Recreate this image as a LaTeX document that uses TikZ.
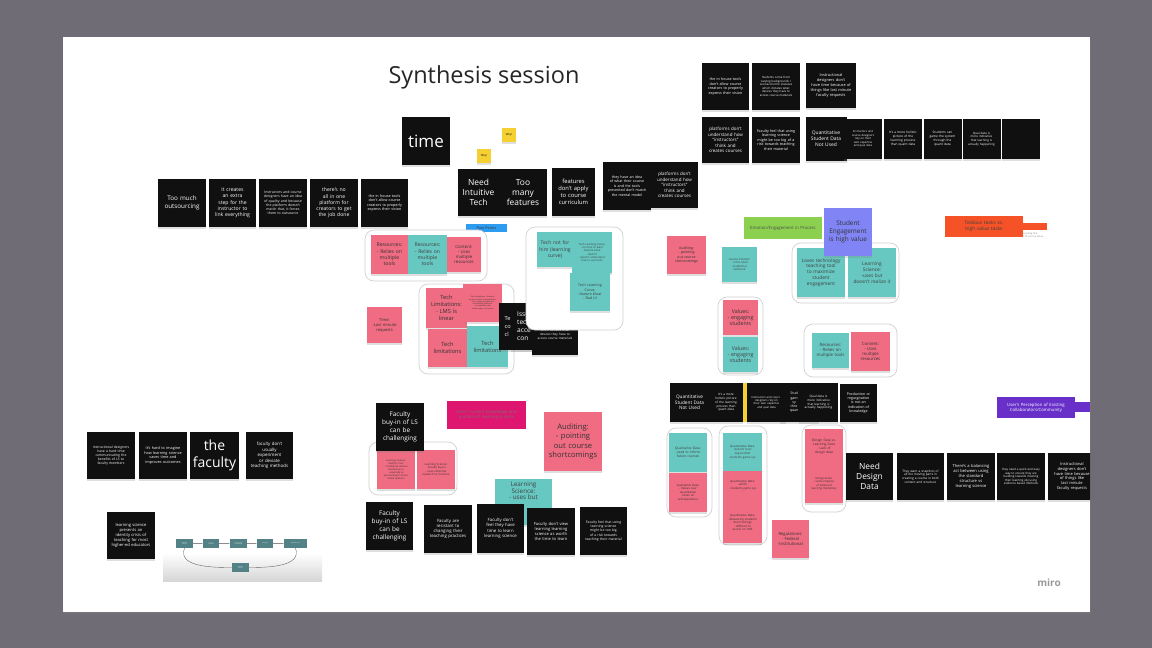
\documentclass[tikz,border=0pt]{standalone}
\usepackage{fontspec}
\setmainfont{Open Sans}
\usetikzlibrary{arrows.meta,shadows}
\hyphenpenalty=10000
\exhyphenpenalty=10000

\definecolor{bgout}{RGB}{112,108,117}
\definecolor{stkblack}{RGB}{16,16,16}
\definecolor{stkpink}{RGB}{240,108,130}
\definecolor{stkteal}{RGB}{103,199,193}
\definecolor{stkyellow}{RGB}{245,208,50}
\definecolor{stkviolet}{RGB}{128,132,245}
\definecolor{lblblue}{RGB}{45,155,240}
\definecolor{lblgreen}{RGB}{140,208,80}
\definecolor{lblmag}{RGB}{222,22,112}
\definecolor{lblorange}{RGB}{245,82,40}
\definecolor{lblpurple}{RGB}{104,48,200}
\definecolor{thumbteal}{RGB}{82,130,134}

\begin{document}
\begin{tikzpicture}[x=1pt,y=-1pt,
  >=Latex,
  sticky/.style={inner sep=0pt,align=center,
    drop shadow={opacity=.25,shadow xshift=0pt,shadow yshift=-1.8pt}},
  blk/.style={sticky,fill=stkblack,text=white},
  pnk/.style={sticky,fill=stkpink,text=black!80},
  tel/.style={sticky,fill=stkteal,text=black!75},
  lbl/.style={inner sep=0pt,align=center},
  frm/.style={draw=black!18,line width=.7pt,rounded corners=9pt,fill=white},
  thumb/.style={fill=thumbteal,text=white,inner sep=0pt,align=center,
    minimum height=9pt,fs=1.3},
  sz/.code 2 args={\pgfmathsetmacro\szw{#1-9}%
    \edef\szx{\noexpand\tikzset{minimum width=#1pt,minimum height=#2pt,text width=\szw pt}}\szx},
  fs/.code={\pgfmathsetmacro\fsb{#1*1.22}%
    \edef\fsx{\noexpand\tikzset{font=\noexpand\fontsize{#1}{\fsb}\noexpand\selectfont}}\fsx}
]
\useasboundingbox (0,0) rectangle (1152,648);
\fill[bgout] (0,0) rectangle (1152,648);
\fill[white,drop shadow={opacity=.35,shadow xshift=1pt,shadow yshift=-2pt}]
  (63,37) rectangle (1090,612);

\begin{scope}
\clip (63,37) rectangle (1090,612);

\node[lbl,fs=23.5,text=black!85] (title) at (484,77) {Synthesis session};

% top left row
\node[blk,sz={48}{48},fs=6.3,text width=44pt] (outsrc) at (182,203) {Too much outsourcing};
\node[blk,sz={47}{48},fs=5.1] (extra) at (232.5,203) {It creates an extra step for the instructor to link everything};
\node[blk,sz={48}{48},fs=3.5] (quality) at (283,203) {Instructors and course designers have an idea of quality and because the platform doesn't match that, it forces them to outsource};
\node[blk,sz={48}{48},fs=5.1] (allinone) at (334,203) {there's no all in one platform for creators to get the job done};
\node[blk,sz={47}{48},fs=3.7] (inhouse) at (384.5,203) {the in house tools don't allow course creators to properly express their vision};

% time / why
\node[blk,sz={48}{48},fs=17,text width=47pt] (time) at (426,141) {time};
\node[sticky,fill=stkyellow,sz={14}{14},text width=14pt,fs=2.6] (why1) at (509,135) {Why?};
\node[sticky,fill=stkyellow,sz={14}{14},text width=14pt,fs=2.6] (why2) at (484,156) {Why?};

% intuitive tech row
\node[blk,sz={41}{47},text width=40pt,fs=8.4] (intuit) at (478.5,192.5) {Need\\Intuitive\\Tech};
\node[blk,sz={48}{47},text width=46pt,fs=8.4] (toomany) at (523,192.5) {Too\\many\\features};
\node[blk,sz={43}{48},text width=42pt,fs=5.8] (noapply) at (573.5,192) {features\\don't apply\\to course\\curriculum};
\node[blk,sz={48}{48},fs=3.6] (mental) at (627,186) {they have an idea of what their course is and the tools presented don't match the mental model};
\node[blk,sz={47}{46},fs=4.5] (notunder) at (674.5,185) {platforms don't understand how ``instructors'' think and creates courses};
\node[lbl,fill=lblblue,minimum width=41pt,minimum height=8pt,fs=3.8,text=black!80] (pain) at (486.5,228) {Pain Points};

% top right rows
\node[blk,sz={47}{47},fs=3.7] (inhouse2) at (725.5,86.5) {the in house tools don't allow course creators to properly express their vision};
\node[blk,sz={48}{47},fs=2.9] (devices) at (776,86.5) {Students come from varying backgrounds / socioeconomic statuses which dictates what devices they have to access course materials};
\node[blk,sz={50}{45},fs=3.9] (notime) at (831,85.5) {Instructional designers don't have time because of things like last minute faculty requests};
\node[blk,sz={47}{46},fs=4.5] (notunder2) at (725.5,140) {platforms don't understand how ``instructors'' think and creates courses};
\node[blk,sz={48}{46},fs=3.7] (risk) at (776,140) {Faculty feel that using learning science might be too big of a risk towards teaching their material};
\node[blk,sz={41}{44},fs=4.9,text width=36pt] (quant) at (826,139) {Quantitative Student Data Not Used};
\node[blk,sz={38}{40},fs=2.8] (expert) at (863,139) {Instructors and course designers rely on their own expertise and qual data};
\node[blk,sz={38}{40},fs=3.2] (holist) at (903,139) {It's a more holistic picture of the learning process than quant data};
\node[blk,sz={38}{40},fs=3.2] (game) at (942.5,139) {Students can game the system through the quant data};
\node[blk,sz={38}{40},fs=3.0] (qual) at (981.5,139) {Qual data is more indicative that learning is actually happening};
\node[blk,sz={38}{40}] (empty) at (1021,139) {};

% pain point clusters
\draw[frm] (365,230) rectangle (487,281);
\node[pnk,sz={37}{39},fs=5.1,text width=31pt] (res1) at (389.5,254.5) {Resources:\\ - Relies on multiple tools};
\node[tel,sz={39}{39},fs=5.1,text width=31pt] (res2) at (427.5,254.5) {Resources:\\ - Relies on multiple tools};
\node[pnk,sz={34}{35},fs=4.3] (cont1) at (464,254.5) {Content:\\ - Uses multiple resources};
\node[pnk,sz={35}{36},fs=4.1] (lastmin) at (384.5,325) {Time:\\ -Last minute requests};

\draw[frm] (419,284) rectangle (514,374);
\node[pnk,sz={41}{40},text width=39pt,fs=5.7] (lms) at (446.5,308) {Tech\\ Limitations:\\ - LMS is\\ linear};
\node[pnk,sz={39}{38},fs=1.9] (access) at (482.5,303) {Tech Limitations: Students access content independently\\ - from multiple platforms no multiple platforms\\ - incompatible with certain types of content};
\node[pnk,sz={39}{38},text width=38pt,fs=5.7] (techlim1) at (447.5,348) {Tech\\ limitations};
\node[tel,sz={41}{41},text width=40pt,fs=5.7] (techlim2) at (487.5,346.5) {Tech\\ limitations};
\node[blk,sz={41}{47}] (techco) at (519.5,326.5) {};
\node[lbl,anchor=west,align=left,text=white,fs=5.6] (techcotxt) at (504.5,326.5) {Te\\[1pt] co\\[1pt] cl};
\node[blk,sz={40}{47}] (issues) at (531,326.5) {};
\node[lbl,anchor=west,align=left,text=white,fs=6.6] (issuestxt) at (517,326.5) {Issu\\ tech\\ acce\\ con};
\node[blk,sz={46}{53},fs=3.1] (devices2) at (555,328.5) {Students come from varying backgrounds / socioeconomic statuses which dictates what devices they have to access course materials};

\draw[frm] (526,227) rectangle (623,330);
\node[tel,sz={36}{35},text width=32pt,fs=5] (notforhim) at (555,249.5) {Tech not for him (learning curve)};
\node[tel,sz={40}{41},fs=2.7] (curve1) at (592,252.5) {Tech Learning Curve:\\ - no time to learn\\ -feature bloat\\ - Bad UI\\ -doesn't understand how to use tools};
\node[tel,sz={40}{38},fs=3.6] (curve2) at (590,292) {Tech Learning Curve:\\ -feature bloat\\ - Bad UI};

% engagement clusters
\node[pnk,sz={39}{38},fs=3.6] (audit1) at (686.5,255) {Auditing:\\ - pointing out course shortcomings};
\node[tel,sz={35}{35},fs=2.8] (coursec) at (739.5,264.5) {Course Content:\\ - in his head\\ -traditional textbook};
\node[lbl,fill=lblgreen,minimum width=78pt,minimum height=22pt,text width=68pt,fs=4.3,text=black!70] (emotion) at (783,228) {Emotion/Engagement in Process};
\draw[frm] (792,243) rectangle (899,303);
\node[tel,sz={48}{49},fs=4.8] (loves) at (821,272.5) {Loves technology teaching tool to maximize student engagement};
\node[tel,sz={48}{49},fs=4.8] (lsci1) at (872,272.5) {Learning Science:\\ -uses but doesn't realize it};
\node[sticky,fill=stkviolet,sz={48}{48},fs=6.4,text width=44pt,text=black!80] (engage) at (848,232) {Student Engagement is high value};
\draw[frm] (718,297) rectangle (763,375);
\node[pnk,sz={35}{35},text width=31pt,fs=5.3] (values1) at (740.5,317.5) {Values:\\ - engaging students};
\node[tel,sz={35}{35},text width=31pt,fs=5.3] (values2) at (740.5,354.5) {Values:\\ - engaging students};
\draw[frm] (804,324) rectangle (897,377);
\node[tel,sz={37}{35},fs=4.3] (res3) at (830.5,350.5) {Resources:\\ - Relies on multiple tools};
\node[pnk,sz={39}{39},fs=4.3] (cont2) at (870.5,351.5) {Content:\\ - Uses multiple resources};

\node[lbl,fs=2.3,text=black!50,align=left] (other) at (1030,235.5) {Tasks anything that\\ doesn't fit into the above};
\fill[lblorange] (1020,223) rectangle (1047,230);
\node[lbl,fill=lblorange,minimum width=78pt,minimum height=21pt,text width=68pt,fs=4.9,text=black!75] (tedious) at (984,226.5) {Tedious tasks vs. high value tasks};

% data row
\fill[stkyellow] (741,383) rectangle (752,422);
\node[blk,sz={39}{39},fs=4.7,text width=35pt] (quant2) at (689.5,402.5) {Quantitative Student Data Not Used};
\node[blk,sz={34}{39},fs=3.1] (holist2) at (726,402.5) {It's a more holistic picture of the learning process than quant data};
\node[blk,sz={39}{39},fs=2.8] (expert2) at (766.5,402.5) {Instructors and course designers rely on their own expertise and qual data};
\node[blk,sz={39}{39}] (game2) at (799.5,402.5) {};
\node[lbl,anchor=east,align=center,text=white,fs=3.5] (game2txt) at (798.5,402.5) {Stud\\ gam\\ sy\\ thro\\ quan};
\node[blk,sz={39}{39},fs=3.1] (qual2) at (818.5,402.5) {Qual data is more indicative that learning is actually happening};
\node[blk,sz={37}{38},fs=3.6] (regurg) at (858.5,403) {Production or regurgitation is not an indication of knowledge};

\draw[frm] (667,428) rectangle (712,517);
\node[tel,sz={38}{39},fs=3.3] (qualu) at (688,452.5) {Qualitative Data:\\ -used to inform future courses};
\node[pnk,sz={38}{39},fs=2.9] (qualv) at (688,492.5) {Qualitative Data:\\ - Values over quantitative\\ -relies on self-experience};
\draw[frm] (719,426) rectangle (767,545);
\node[tel,sz={39}{38},fs=2.9] (quantt) at (742.5,452) {Quantitative Data:\\ -doesn't trust\\ -big brother\\ -students game sys};
\node[pnk,sz={39}{31},fs=2.9] (quantw) at (742.5,486.5) {Quantitative Data:\\ -which\\ - students game sys\\ -};
\node[pnk,sz={39}{41},fs=2.9] (quantm) at (742.5,522.5) {Quantitative Data:\\ - Measuring students' shortcomings\\ - Difficult to access on LMS};
\draw[frm] (802,425) rectangle (846,512);
\node[pnk,sz={38}{36},fs=3.3] (design1) at (824,447) {Design Data vs. Learning Data\\ - Lack of design data};
\node[pnk,sz={38}{38},fs=2.8] (design2) at (824,484) {Design Data:\\ - some impetus of balanced learning modalities};
\node[pnk,sz={37}{38},fs=4.2] (regul) at (790.5,539) {Regulations:\\ - Federal\\ -Institutional};

\node[blk,sz={47}{47},text width=46pt,fs=8.4] (needdd) at (869.5,476.5) {Need\\Design\\Data};
\node[blk,sz={47}{47},fs=3.1] (snap) at (920.5,476.5) {They want a snapshot of all the moving parts in creating a course in both content and structure};
\node[blk,sz={48}{47},fs=4.1] (balance) at (971,476.5) {There's a balancing act between using the standard structure vs learning science};
\node[blk,sz={48}{47},fs=2.9] (quick) at (1021,476.5) {they need a quick and easy way to ensure they are building towards meeting their learning obj using evidence based methods};
\node[blk,sz={48}{47},fs=4] (notime2) at (1072,476.5) {Instructional designers don't have time because of things like last minute faculty requests};

\fill[lblpurple] (1070,402) rectangle (1090,412);
\node[lbl,fill=lblpurple,minimum width=78pt,minimum height=21pt,text width=72pt,fs=4.3,text=white] (percep) at (1036,407.5) {User's Perception of Existing Collaborators/Community};

% faculty (left bottom)
\node[blk,sz={48}{47},fs=3.4] (commun) at (111,455.5) {Instructional designers have a hard time communicating the benefits of LS to faculty members};
\node[blk,sz={48}{47},fs=3.8] (imagine) at (163,455.5) {It's hard to imagine how learning science saves time and improves outcomes};
\node[blk,sz={49}{47},text width=48pt,fs=14] (faculty) at (214.5,455.5) {the\\faculty};
\node[blk,sz={47}{47},fs=4.4] (deviate) at (269.5,455.5) {faculty don't usually experiment or deviate teaching methods};
\node[blk,sz={48}{47},fs=4.1] (identity) at (131,535.5) {learning science presents an identity crisis of teaching for most higher-ed educators};

% process thumbnail
\shade[top color=white,bottom color=black!16] (163,553) rectangle (322,581);
\node[thumb,minimum width=17pt] (ph1) at (184.5,543.5) {Ideating\\Course};
\node[thumb,minimum width=16pt] (ph2) at (211,543.5) {Find\\materials};
\node[thumb,minimum width=17pt] (ph3) at (238.5,543.5) {Structuring\\\& Scheduling};
\node[thumb,minimum width=16pt] (ph4) at (265,543.5) {Teaching};
\node[thumb,minimum width=23pt] (ph5) at (295.5,543.5) {Reflect/Iterate};
\node[thumb,minimum width=17pt] (ph6) at (240.5,567.5) {Evaluate\\Course};
\foreach \a/\b in {ph1/ph2,ph2/ph3,ph3/ph4,ph4/ph5}
  \draw[->,black!45,line width=.3pt,>={Latex[length=1.2pt]}] (\a) -- (\b);
\draw[black!60,line width=.4pt] (ph1.south) to[out=-110,in=180] (ph6.west);
\draw[black!60,line width=.4pt] (ph6.east) to[out=0,in=-70] (ph5.south);

% faculty buy-in cluster
\draw[frm] (369,442) rectangle (457,495);
\node[pnk,sz={38}{39},fs=2.4] (lscrisis) at (396,469.5) {Learning Science: Identity Crisis\\ - confidence without faculty buy-in\\ - especially w/ preconceived notions online teachers};
\node[pnk,sz={38}{39},fs=2.8] (lsbuy) at (436,469.5) {Learning Science:\\ - Faculty buy-in\\ - uses empirical research to convince};
\node[blk,sz={48}{48},text width=44pt,fs=6.4] (buyin1) at (400,427) {Faculty\\ buy-in of LS\\ can be\\ challenging};
\node[lbl,fill=lblmag,minimum width=79pt,minimum height=28pt,text width=68pt,fs=4.3,text=black!55] (knowl) at (486.5,415) {User's current knowledge and practice of learning science};
\node[pnk,sz={58}{59},fs=7.6] (audit2) at (573,441.5) {Auditing:\\ - pointing out course shortcomings};
\node[tel,sz={57}{46}] (lsci2) at (523.5,502) {};
\node[lbl,anchor=north,text=black!75,fs=6.3] (lsci2txt) at (523.5,481.5) {Learning\\[-1pt] Science:\\[-1pt] - uses but};

\node[blk,sz={47}{48},text width=44pt,fs=6.4] (buyin2) at (389.5,526) {Faculty\\ buy-in of LS\\ can be\\ challenging};
\node[blk,sz={48}{48},fs=4.3] (resist) at (448,529) {Faculty are resistant to changing their teaching practices};
\node[blk,sz={47}{49},fs=4.3] (feeltime) at (500.5,528.5) {Faculty don't feel they have time to learn learning science};
\node[blk,sz={48}{47},fs=4.1] (worth) at (551,531.5) {Faculty don't view learning learning science as worth the time to learn};
\node[blk,sz={47}{48},fs=3.4] (risk2) at (603.5,531) {Faculty feel that using learning science might be too big of a risk towards teaching their material};

\node[lbl,fs=10,text=black!40] (miro) at (1049,583) {\bfseries miro};
\end{scope}
\end{tikzpicture}
\end{document}
